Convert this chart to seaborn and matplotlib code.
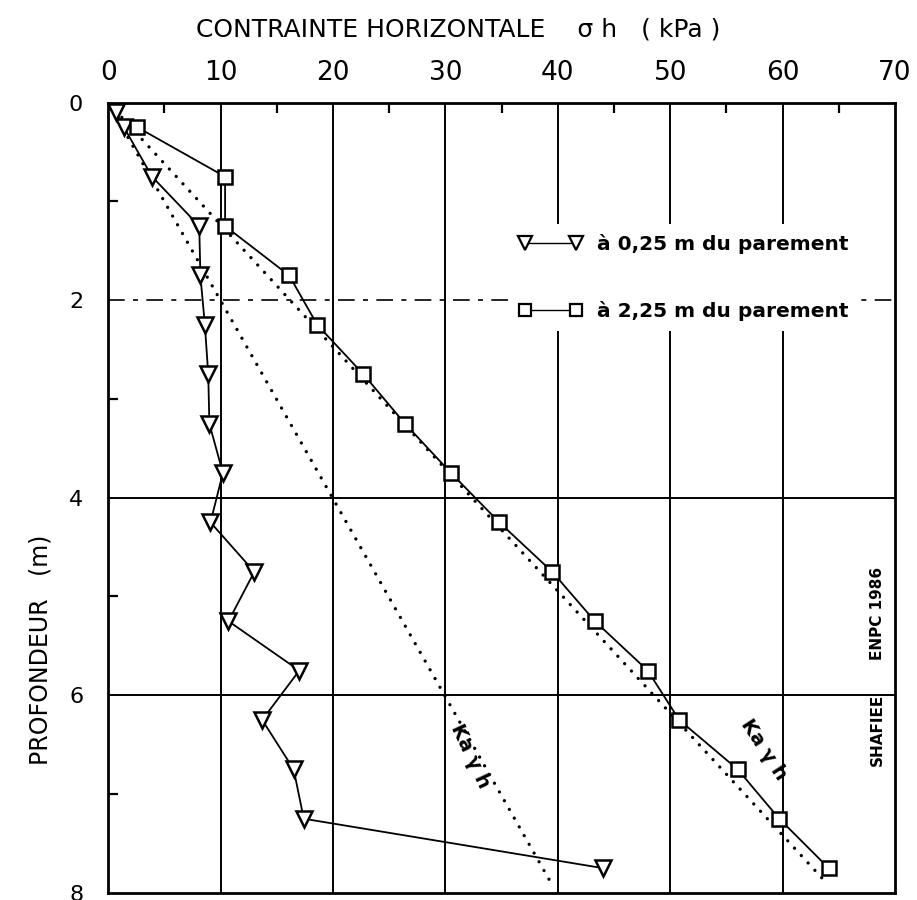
import matplotlib
matplotlib.use("Agg")
import matplotlib.pyplot as plt
import seaborn as sns
import pandas as pd
from matplotlib.lines import Line2D
from matplotlib.ticker import MultipleLocator

# ---- data ----
depth_tri = [0.1, 0.25, 0.75, 1.25, 1.75, 2.25, 2.75, 3.25, 3.75, 4.25, 4.75, 5.25, 5.75, 6.25, 6.75, 7.25, 7.75]
sigma_tri = [0.7, 1.4, 3.9, 8.1, 8.2, 8.6, 8.9, 9.0, 10.2, 9.1, 13.0, 10.7, 17.0, 13.7, 16.5, 17.4, 44.0]

depth_sq = [0.25, 0.75, 1.25, 1.75, 2.25, 2.75, 3.25, 3.75, 4.25, 4.75, 5.25, 5.75, 6.25, 6.75, 7.25, 7.75]
sigma_sq = [2.6, 10.4, 10.4, 16.1, 18.6, 22.7, 26.4, 30.5, 34.8, 39.5, 43.3, 48.0, 50.8, 56.0, 59.7, 64.1]

ka_depth_1 = [0.0, 7.85]
ka_sigma_1 = [0.0, 63.5]
ka_depth_2 = [0.0, 7.9]
ka_sigma_2 = [0.0, 39.4]

legend_labels = ["à 0,25 m du parement", "à 2,25 m du parement"]
x_ticks = [0, 10, 20, 30, 40, 50, 60, 70]
y_ticks = [0, 2, 4, 6, 8]

sns.set_style("white")
plt.rcParams['font.family'] = ['DejaVu Sans']
for k in ['text.color', 'axes.labelcolor', 'xtick.color', 'ytick.color']:
    plt.rcParams[k] = 'black'

fig = plt.figure(figsize=(9.17, 9.0), dpi=100)
ax = fig.add_axes([0.118, 0.008, 0.858, 0.878])

df_tri = pd.DataFrame({"sigma": sigma_tri, "depth": depth_tri})
df_sq = pd.DataFrame({"sigma": sigma_sq, "depth": depth_sq})
df_k1 = pd.DataFrame({"sigma": ka_sigma_1, "depth": ka_depth_1})
df_k2 = pd.DataFrame({"sigma": ka_sigma_2, "depth": ka_depth_2})

# grid
for xv in x_ticks[1:-1]:
    ax.axvline(xv, color="black", lw=1.4, zorder=1)
for yv in [4, 6]:
    ax.axhline(yv, color="black", lw=1.4, zorder=1)
ax.axhline(2, color="black", lw=1.2, ls=(0, (10, 5, 3, 5)), zorder=1)

for dfk in (df_k1, df_k2):
    sns.lineplot(data=dfk, x="sigma", y="depth", sort=False, estimator=None, ax=ax,
                 color="black", lw=2.4, ls=(0, (0.01, 3.0)), dash_capstyle="round", zorder=2)

sns.lineplot(data=df_tri, x="sigma", y="depth", sort=False, estimator=None, ax=ax,
             color="black", lw=1.3, marker="v", markersize=12, markerfacecolor="white",
             markeredgecolor="black", markeredgewidth=1.8, zorder=3)
sns.lineplot(data=df_sq, x="sigma", y="depth", sort=False, estimator=None, ax=ax,
             color="black", lw=1.3, marker="s", markersize=10, markerfacecolor="white",
             markeredgecolor="black", markeredgewidth=1.8, zorder=3)

ax.set_xlim(0, 70)
ax.set_ylim(8, 0)
ax.xaxis.tick_top()
ax.set_xticks(x_ticks)
ax.set_yticks(y_ticks)
ax.xaxis.set_minor_locator(MultipleLocator(5))
ax.yaxis.set_minor_locator(MultipleLocator(1))
ax.tick_params(axis="x", which="major", top=True, bottom=False, direction="in", length=0,
               pad=12, labelsize=19)
ax.tick_params(axis="y", which="major", left=True, direction="in", length=0, pad=18, labelsize=16)
ax.tick_params(axis="x", which="minor", top=True, bottom=False, direction="in", length=7, width=1.6)
ax.tick_params(axis="y", which="minor", left=True, direction="in", length=7, width=1.6)
ax.set_xlabel("")
ax.set_ylabel("")
for sp in ax.spines.values():
    sp.set_color("black")
    sp.set_linewidth(2.0)

handles = [
    Line2D([0], [0], color="black", lw=1.0, marker="v", markersize=10, markerfacecolor="white",
           markeredgecolor="black", markeredgewidth=1.6),
    Line2D([0], [0], color="black", lw=1.0, marker="s", markersize=8, markerfacecolor="white",
           markeredgecolor="black", markeredgewidth=1.6),
]
leg = ax.legend(handles, legend_labels, loc="upper left", bbox_to_anchor=(0.5095, 0.846),
                borderaxespad=0.0, numpoints=2, handlelength=3.1, handletextpad=0.75,
                labelspacing=2.3, fontsize=14.5, frameon=True, fancybox=False, borderpad=0.5)
leg.get_frame().set_facecolor("white")
leg.get_frame().set_edgecolor("none")
leg.get_frame().set_alpha(1.0)
leg.set_zorder(5)
for t in leg.get_texts():
    t.set_fontweight("bold")

ax.text(32.2, 6.62, "Ka γ h", rotation=-65, ha="center", va="center", fontsize=14,
        fontweight="bold", zorder=4)
ax.text(58.3, 6.55, "Ka γ h", rotation=-57, ha="center", va="center", fontsize=14,
        fontweight="bold", zorder=4)

fig.text(0.50, 0.967, "CONTRAINTE HORIZONTALE    σ h   ( kPa )", ha="center", va="center",
         fontsize=18)
fig.text(0.044, 0.278, "PROFONDEUR   (m)", rotation=90, ha="center", va="center",
         fontsize=17)
fig.text(0.957, 0.318, "ENPC 1986", rotation=90, ha="center", va="center", fontsize=11,
         fontweight="bold")
fig.text(0.957, 0.189, "SHAFIEE", rotation=90, ha="center", va="center", fontsize=11,
         fontweight="bold")

fig.savefig("out.png", dpi=100)
